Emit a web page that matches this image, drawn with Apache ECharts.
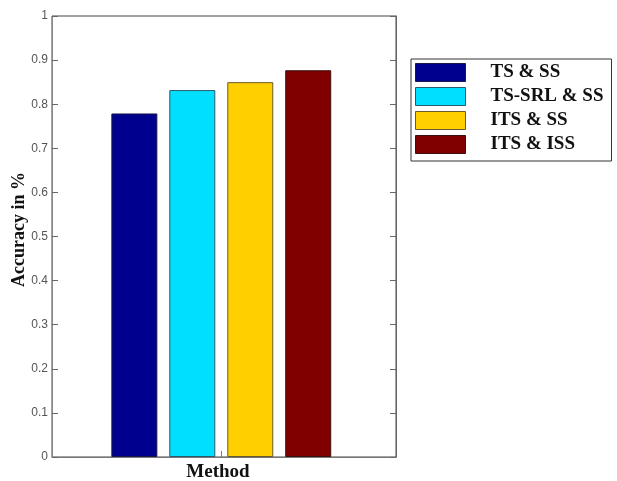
<!DOCTYPE html>
<html>
<head>
<meta charset="utf-8">
<script src="https://cdn.jsdelivr.net/npm/echarts@6/dist/echarts.min.js"></script>
<style>html,body{margin:0;padding:0;background:#fff}#c{width:617px;height:481px}</style>
</head>
<body>
<div id="c"></div>
<script>
const categoryPosition = 1;
const seriesNames = ['TS & SS', 'TS-SRL & SS', 'ITS & SS', 'ITS & ISS'];
const tsSS = [0.779];
const tsSrlSS = [0.832];
const itsSS = [0.850];
const itsISS = [0.877];
const seriesValues = [tsSS, tsSrlSS, itsSS, itsISS];
const colors = ['#00008F', '#00DFFF', '#FFCF00', '#800000'];
const borders = ['#1a1a4a', '#2a5a6a', '#6a5a2a', '#3a1010'];

const chart = echarts.init(document.getElementById('c'), null, {renderer: 'canvas'});
const serif = '"Liberation Serif", "Times New Roman", serif';
const sans = '"Liberation Sans", Arial, sans-serif';

chart.setOption({
  backgroundColor: '#fff',
  animation: false,
  color: colors,
  grid: {left: 52, top: 16, width: 344, height: 441, show: true, borderColor: '#444', borderWidth: 1, backgroundColor: 'transparent', containLabel: false, outerBoundsMode: 'none'},
  legend: {
    orient: 'vertical',
    left: 411, top: 59,
    itemWidth: 50, itemHeight: 18, itemGap: 5,
    padding: [4, 8, 7, 4],
    borderColor: '#333', borderWidth: 1,
    icon: 'rect',
    itemStyle: {borderWidth: 1},
    data: seriesNames,
    textStyle: {fontFamily: serif, fontWeight: 'bold', fontSize: 19, color: '#111', lineHeight: 18, padding: [0, 0, 0, 20]}
  },
  xAxis: {
    type: 'value',
    min: 0.5, max: 1.516,
    name: 'Method',
    nameLocation: 'middle',
    nameGap: 6,
    nameMoveOverlap: false,
    nameTextStyle: {fontFamily: serif, fontWeight: 'bold', fontSize: 19, color: '#111', padding: [0, 12, 0, 0], verticalAlign: 'top'},
    axisLine: {show: true, lineStyle: {color: '#777'}},
    axisTick: {show: true, inside: true, length: 6, customValues: [categoryPosition], lineStyle: {color: '#777'}},
    axisLabel: {show: false},
    splitLine: {show: false}
  },
  yAxis: [{
    type: 'value',
    min: 0, max: 1, interval: 0.1,
    name: 'Accuracy in %',
    nameLocation: 'middle',
    nameGap: 24,
    nameMoveOverlap: false,
    nameRotate: 90,
    nameTextStyle: {fontFamily: serif, fontWeight: 'bold', fontSize: 18, color: '#111', padding: [0, 0, 0, 14]},
    axisLine: {show: true, lineStyle: {color: '#888'}},
    axisTick: {show: true, inside: true, length: 6, lineStyle: {color: '#666'}},
    splitLine: {show: false},
    axisLabel: {margin: 4, fontFamily: sans, fontSize: 12, color: '#555', formatter: v => String(+v.toFixed(1))}
  }, {
    type: 'value',
    position: 'right',
    min: 0, max: 1, interval: 0.1,
    axisLine: {show: true, lineStyle: {color: '#666'}},
    axisTick: {show: true, inside: true, length: 6, lineStyle: {color: '#666'}},
    splitLine: {show: false},
    axisLabel: {show: false}
  }],
  series: seriesNames.map((n, i) => ({
    name: n,
    type: 'bar',
    data: seriesValues[i].map(v => [categoryPosition, v]),
    barWidth: 46,
    barGap: '26%',
    itemStyle: {color: colors[i], borderColor: borders[i], borderWidth: 1}
  }))
});
</script>
</body>
</html>
